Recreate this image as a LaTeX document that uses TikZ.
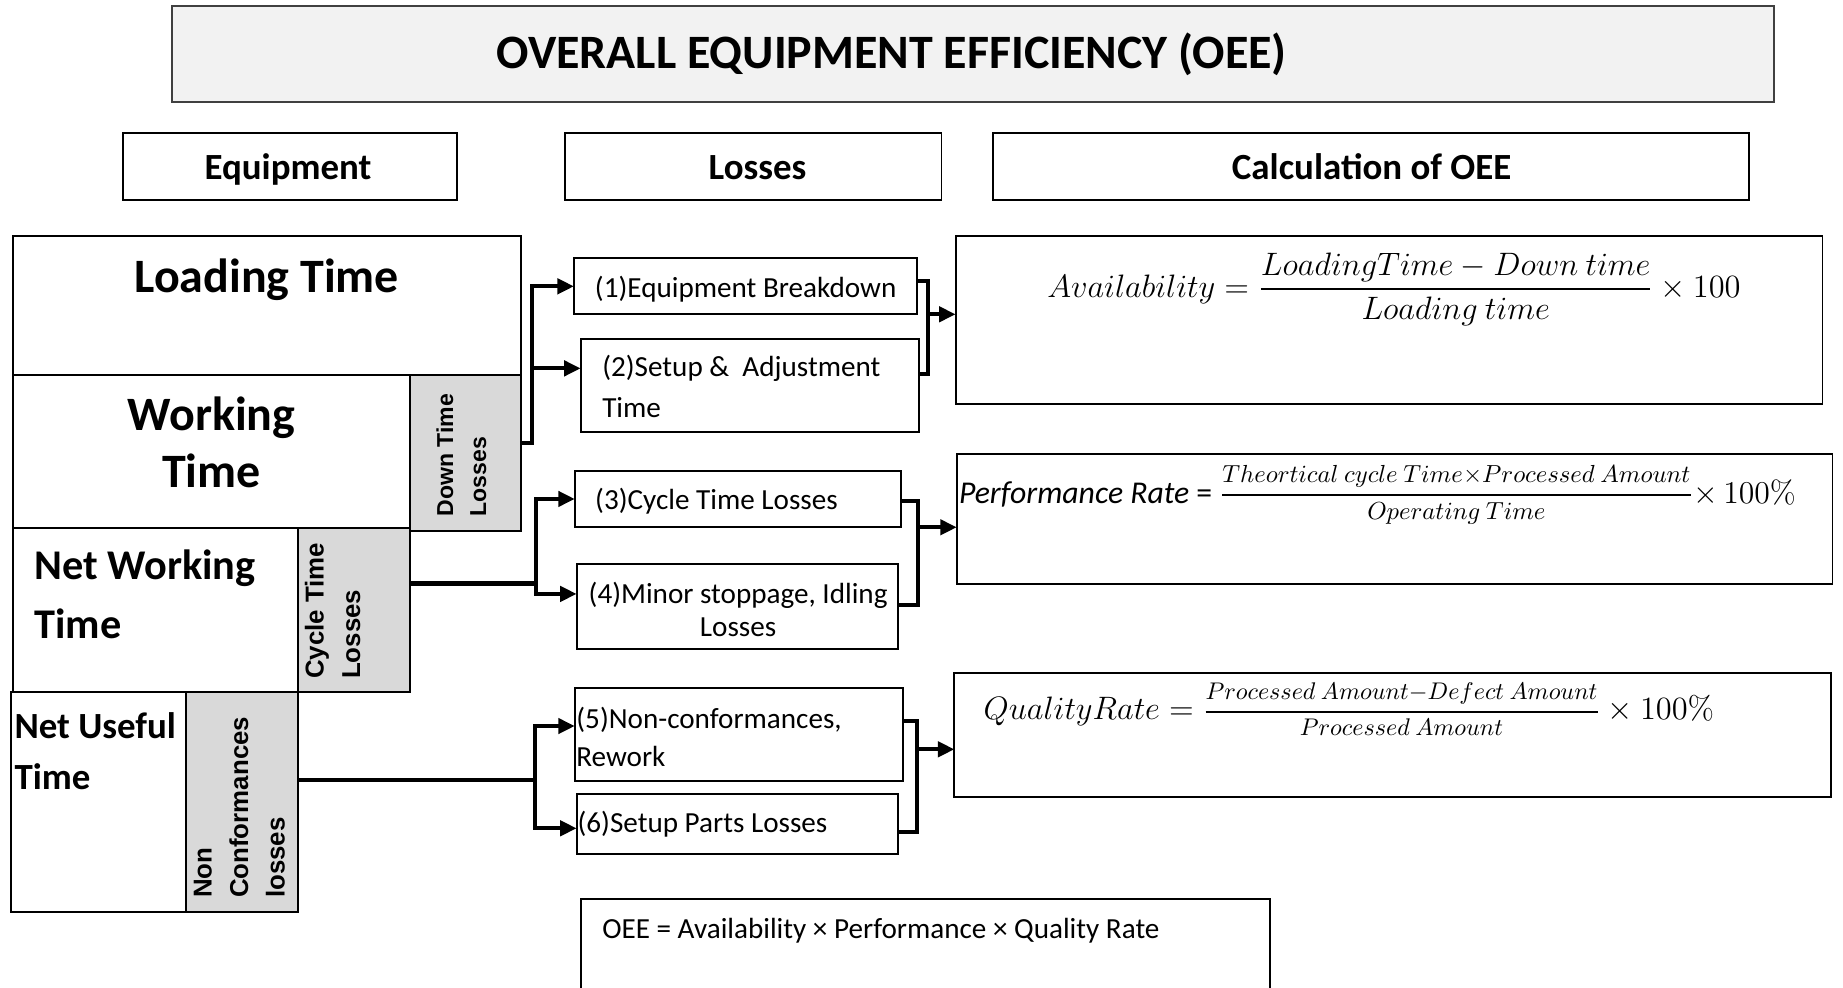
\RequirePackage{fix-cm}
\documentclass[tikz,border=0pt]{standalone}
\usepackage[no-math]{fontspec}
\usepackage{amsmath}
\setmainfont{Carlito}
\newfontfamily\arialfont{Liberation Sans}
\usetikzlibrary{arrows.meta,fit}
\definecolor{lossgray}{HTML}{D9D9D9}
\definecolor{titlegray}{HTML}{F2F2F2}
% fraction set at a given size (#1) with a heavy bar, raised by #2
\newcommand\ratefrac[4]{\raisebox{#2}{\fontsize{#1}{12}\selectfont$\genfrac{}{}{0.9pt}{0}{#3}{#4}$}}
\begin{document}
\begin{tikzpicture}[x=0.5pt,y=-0.5pt,
  frame/.style={draw=black,line width=0.8pt,inner sep=0pt,outer sep=0pt},
  leftbox/.style={frame,line width=0.9pt},
  graybox/.style={leftbox,fill=lossgray},
  titlebox/.style={frame,fill=titlegray,draw=black!75},
  conn/.style={line width=1.8pt,line join=miter},
  tip/.style={conn,-{Triangle[length=7pt,width=6.4pt]}},
  titletxt/.style={font=\fontsize{20.4}{24}\selectfont\bfseries,inner sep=0pt},
  headtxt/.style={font=\fontsize{15.7}{19}\selectfont\bfseries,inner sep=0pt},
  bigtxt/.style={font=\fontsize{20.4}{24}\selectfont\bfseries,inner sep=0pt},
  losstxt/.style={font=\fontsize{12.4}{15}\selectfont,inner sep=0pt},
  vtxt/.style={rotate=90,anchor=north west,align=left,inner sep=0pt},
  mathtxt/.style={font=\fontsize{13.8}{16}\selectfont,inner sep=0pt}]
\useasboundingbox (0,0) rectangle (1568,840);
\clip (0,0) rectangle (1568,840);

% title and column headers
\node[titlebox,fit={(146,5) (1509,87)}] (title) {};
\node[titletxt,anchor=base] (title-t) at (758.5,58) {OVERALL EQUIPMENT EFFICIENCY (OEE)};
\node[frame,fit={(105,113) (389,170.5)}] (h-eq) {};
\node[frame,fit={(481,113) (801,170.5)}] (h-loss) {};
\node[frame,fit={(845,113) (1488,170.5)}] (h-calc) {};
\node[headtxt,anchor=base] (h-eq-t) at (245,153) {Equipment};
\node[headtxt,anchor=base] (h-loss-t) at (644.5,153) {Losses};
\node[headtxt,anchor=base] (h-calc-t) at (1167,153) {Calculation of OEE};

% equipment time breakdown
\node[leftbox,fit={(11,201) (443,319)}] (load) {};
\node[leftbox,fit={(11,319) (349,449)}] (work) {};
\node[graybox,fit={(349,319) (443,452)}] (dtl) {};
\node[leftbox,fit={(11,449) (253.5,589)}] (netw) {};
\node[graybox,fit={(253.5,449) (349,589)}] (ctl) {};
\node[leftbox,fit={(9,589) (158,776)}] (netu) {};
\node[graybox,fit={(158,589) (253.3,776)}] (ncl) {};

\node[bigtxt,anchor=base] (load-t) at (227,249) {Loading Time};
\node[bigtxt,anchor=base] (work-t1) at (180,366.4) {Working};
\node[bigtxt,anchor=base] (work-t2) at (180,414.9) {Time};
\node[bigtxt,font=\fontsize{18}{22}\selectfont\bfseries,anchor=base west] (netw-t1) at (29,493.4) {Net Working};
\node[bigtxt,font=\fontsize{18}{22}\selectfont\bfseries,anchor=base west] (netw-t2) at (29,543) {Time};
\node[bigtxt,font=\fontsize{15.7}{19}\selectfont\bfseries,anchor=base west] (netu-t1) at (12,628.1) {Net Useful};
\node[bigtxt,font=\fontsize{15.7}{19}\selectfont\bfseries,anchor=base west] (netu-t2) at (12,671.5) {Time};

\node[vtxt,font=\arialfont\bfseries\fontsize{9.8}{14}\selectfont] (dtl-t) at (371,439.6) {Down Time\\Losses};
\node[vtxt,font=\arialfont\bfseries\fontsize{11}{15.5}\selectfont] (ctl-t) at (259,578) {Cycle Time\\Losses};
\node[vtxt,font=\arialfont\bfseries\fontsize{11}{15.5}\selectfont] (ncl-t) at (164.6,764.3) {Non\\Conformances\\losses};

% six big losses
\node[frame,fit={(488.3,219.8) (780.4,267.4)}] (b1) {};
\node[frame,fit={(494,288.7) (782,367.3)}] (b2) {};
\node[frame,fit={(489,400.4) (766.6,448.6)}] (b3) {};
\node[frame,fit={(490.6,480) (764.3,552)}] (b4) {};
\node[frame,fit={(489,585.6) (768.5,664.2)}] (b5) {};
\node[frame,fit={(490.6,675.5) (764.3,726.6)}] (b6) {};

\node[losstxt,anchor=base] (b1-t) at (634.4,253) {(1)Equipment Breakdown};
\node[losstxt,anchor=base west] (b2-t1) at (512,320.5) {(2)Setup \&\ \ Adjustment};
\node[losstxt,anchor=base west] (b2-t2) at (512,355.3) {Time};
\node[losstxt,anchor=base west] (b3-t) at (506,433.3) {(3)Cycle Time Losses};
\node[losstxt,anchor=base] (b4-t1) at (628,513.3) {(4)Minor stoppage, Idling};
\node[losstxt,anchor=base] (b4-t2) at (628,541.7) {Losses};
\node[losstxt,anchor=base west] (b5-t1) at (490,619.6) {(5)Non-conformances,};
\node[losstxt,anchor=base west] (b5-t2) at (490,652.3) {Rework};
\node[losstxt,anchor=base west] (b6-t) at (491,708.4) {(6)Setup Parts Losses};

% calculation boxes
\node[frame,fit={(813,200.5) (1550.5,343.7)}] (f1) {};
\node[frame,fit={(814,386.3) (1559,497.2)}] (f2) {};
\node[frame,fit={(812,572.3) (1558,677.8)}] (f3) {};
\node[frame,fit={(494.5,765.1) (1080.5,880)}] (oee) {};

\node[mathtxt,anchor=base west] (f1-t) at (890.6,253)
  {$Availability = \genfrac{}{}{0.9pt}{0}{LoadingTime - Down\ time}{Loading\ time}\times 100$};
\node[mathtxt,font=\fontsize{13.5}{16}\selectfont,anchor=base west] (f2-t) at (815.5,428)
  {\itshape Performance Rate\upshape{} = \ratefrac{10.5}{0.8pt}{Theortical\ cycle\ Time{\times}Processed\ Amount}{Operating\ Time}$\times\,100\%$};
\node[mathtxt,anchor=base west] (f3-t) at (836.5,612.4)
  {$QualityRate = \ratefrac{10.25}{0.9pt}{Processed\ Amount{-}Defect\ Amount}{Processed\ Amount}\times 100\%$};
\node[losstxt,anchor=base west] (oee-t) at (512,798.3) {OEE = Availability × Performance × Quality Rate};

% connectors: time losses to the six losses
\coordinate (j1) at (452.3,376.6);
\coordinate (a2) at (0,313.4);
\draw[tip] (dtl.east |- j1) -- (j1) |- (b1.west);
\draw[tip] (j1 |- a2) -- (b2.west |- a2);

\coordinate (j2) at (456,496.5);
\coordinate (a4) at (0,505.3);
\draw[conn] (ctl.east |- j2) -- (j2);
\draw[tip] (j2 |- a4) -- (j2) |- (b3.west);
\draw[tip] (j2) |- (b4.west |- a4);

\coordinate (j3) at (455,663.6);
\coordinate (a5) at (0,617.7);
\coordinate (a6) at (0,704.7);
\draw[conn] (ncl.east |- j3) -- (j3);
\draw[tip] (j3) |- (b5.west |- a5);
\draw[tip] (j3) |- (b6.west |- a6);

% connectors: losses to the rates
\coordinate (r1) at (789.8,267.4);
\draw[conn] (b1.east |- 0,239) -| (r1) |- (b2.east |- 0,318.2);
\draw[tip] (r1) -- (f1.west |- r1);

\coordinate (r2) at (781.3,448.6);
\draw[conn] (b3.east |- 0,426.3) -| (r2) |- (b4.east |- 0,514.7);
\draw[tip] (r2) -- (f2.west |- r2);

\coordinate (r3) at (779.9,637.5);
\draw[conn] (b5.east |- 0,613.4) -| (r3) |- (b6.east |- 0,707.6);
\draw[tip] (r3) -- (f3.west |- r3);
\end{tikzpicture}
\end{document}
